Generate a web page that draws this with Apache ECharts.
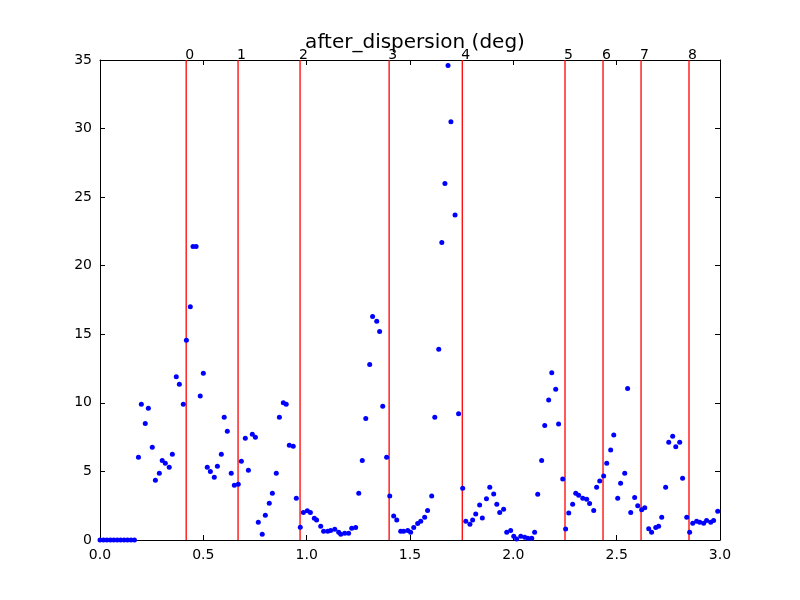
<!DOCTYPE html>
<html><head><meta charset="utf-8">
<script src="https://cdn.jsdelivr.net/npm/echarts@6/dist/echarts.min.js"></script>
<style>html,body{margin:0;padding:0;background:#fff}#c{width:800px;height:600px}</style>
</head><body><div id="c"></div>
<script>
const titleText = "after_dispersion (deg)";
const xs = [0,0.0167,0.0333,0.05,0.0667,0.0833,0.1,0.1167,0.1333,0.15,0.1667,
0.186,0.2,0.219,0.234,0.253,0.268,0.287,0.301,0.316,0.335,0.35,0.369,0.384,0.403,0.418,0.437,0.45,0.465,0.485,0.5,0.519,0.534,0.553,0.568,0.587,0.601,0.616,0.635,0.65,0.669,0.684,0.703,0.718,0.737,0.752,0.766,0.785,0.8,0.819,0.834,0.853,0.868,0.887,0.901,0.916,0.935,0.95,0.969,0.984,1.003,1.018,1.037,1.048,1.068,1.082,1.102,1.116,1.136,1.155,1.165,1.184,1.203,1.218,1.237,1.252,1.269,1.286,1.305,1.319,1.339,1.353,1.368,1.387,1.402,1.421,1.436,1.455,1.469,1.489,1.503,1.518,1.537,1.552,1.571,1.585,1.605,1.62,1.639,1.654,1.669,1.684,1.698,1.718,1.735,1.755,1.77,1.79,1.803,1.818,1.837,1.85,1.87,1.886,1.905,1.92,1.934,1.953,1.968,1.987,2.002,2.016,2.036,2.055,2.07,2.089,2.103,2.118,2.137,2.152,2.171,2.186,2.205,2.219,2.239,2.253,2.268,2.287,2.302,2.316,2.336,2.355,2.369,2.389,2.403,2.418,2.437,2.452,2.471,2.486,2.505,2.519,2.539,2.553,2.568,2.587,2.602,2.621,2.636,2.655,2.669,2.689,2.703,2.718,2.737,2.752,2.771,2.786,2.805,2.819,2.839,2.853,2.868,2.887,2.902,2.921,2.935,2.955,2.969,2.989];
const ys = [0,0,0,0,0,0,0,0,0,0,0,
6.03,9.9,8.5,9.6,6.76,4.35,4.86,5.8,5.6,5.3,6.25,11.9,11.35,9.9,14.56,17.0,21.4,21.4,10.5,12.15,5.3,5.0,4.57,5.37,6.25,8.95,7.93,4.86,3.99,4.06,5.74,7.42,5.08,7.71,7.49,1.29,0.42,1.8,2.68,3.4,4.86,8.95,10.0,9.9,6.9,6.83,3.04,0.93,2.0,2.14,2.0,1.58,1.46,1.0,0.63,0.63,0.7,0.78,0.56,0.42,0.49,0.49,0.85,0.92,3.4,5.8,8.86,12.8,16.3,15.95,15.2,9.75,6.03,3.2,1.75,1.46,0.63,0.63,0.7,0.56,0.92,1.2,1.36,1.65,2.16,3.2,8.95,13.9,21.7,26.0,34.6,30.5,23.7,9.2,3.77,1.36,1.14,1.46,1.9,2.55,1.6,3.0,3.84,3.35,2.6,2.0,2.24,0.56,0.7,0.27,0.07,0.27,0.2,0.12,0.12,0.56,3.33,5.8,8.35,10.2,12.2,11.0,8.45,4.44,0.8,1.97,2.6,3.4,3.26,3.04,2.97,2.67,2.16,3.84,4.3,4.66,5.6,6.56,7.65,3.04,4.13,4.86,11.05,2.0,3.1,2.5,2.2,2.35,0.82,0.56,0.92,1.0,1.65,3.84,7.13,7.57,6.8,7.13,4.5,1.65,0.56,1.22,1.36,1.29,1.22,1.43,1.29,1.43,2.1];
const lineXs = [0.417,0.668,0.968,1.399,1.753,2.25,2.434,2.618,2.85];
const lineLabels = ["0","1","2","3","4","5","6","7","8"];

const font = "DejaVu Sans";
const chart = echarts.init(document.getElementById('c'));
const axisCommon = {
  axisLine:{show:true,onZero:false,lineStyle:{color:'#000',width:1}},
  axisTick:{show:true,inside:true,length:5,lineStyle:{color:'#000'}},
  splitLine:{show:false}
};
const lineSeries = lineXs.map((x,i)=>({
  type:'line', data:[[x,0],[x,35]], symbol:'none', silent:true, z:2,
  lineStyle:{color:'#ff0000',width:1.3,opacity:1},
  endLabel:{show:true,formatter:lineLabels[i],color:'#000',fontFamily:font,fontSize:14,offset:[-9,-5]}
}));
chart.setOption({
  animation:false,
  backgroundColor:'#fff',
  title:{text:titleText,left:410,top:28,textAlign:'center',textStyle:{fontFamily:font,fontSize:20,fontWeight:'normal',color:'#000'}},
  grid:{left:100,right:80,top:60,bottom:60},
  xAxis:[
    Object.assign({type:'value',min:0,max:3,interval:0.5,position:'bottom',
      axisLabel:{color:'#000',fontFamily:font,fontSize:14,margin:8,formatter:v=>v.toFixed(1)}},axisCommon),
    Object.assign({type:'value',min:0,max:3,interval:0.5,position:'top',axisLabel:{show:false}},axisCommon)
  ],
  yAxis:[
    Object.assign({type:'value',min:0,max:35,interval:5,position:'left',
      axisLabel:{color:'#000',fontFamily:font,fontSize:14,margin:8}},axisCommon),
    Object.assign({type:'value',min:0,max:35,interval:5,position:'right',axisLabel:{show:false}},axisCommon)
  ],
  series:[{
    type:'scatter',
    data:xs.map((x,i)=>[x,ys[i]]),
    symbolSize:5,
    itemStyle:{color:'#0000ff',opacity:1},
    z:3
  }].concat(lineSeries)
});
</script></body></html>
